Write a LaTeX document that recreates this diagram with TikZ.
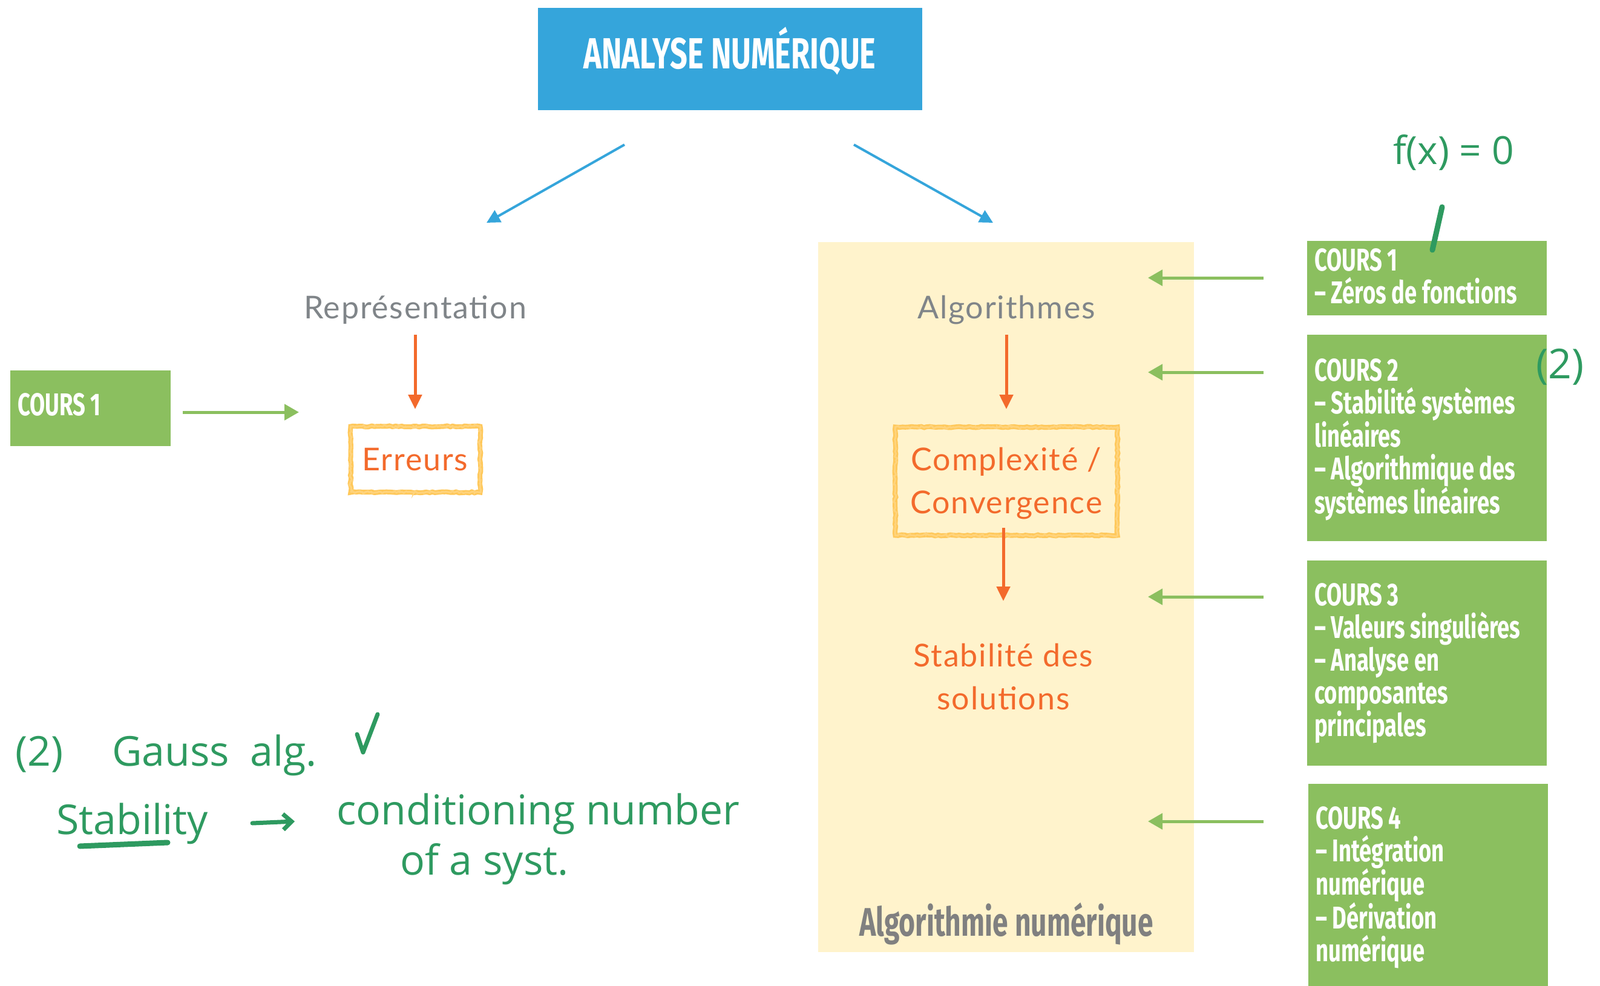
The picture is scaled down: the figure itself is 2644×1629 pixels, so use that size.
\documentclass[tikz,border=0pt]{standalone}
\usepackage{fontspec}
\setmainfont{Lato}[LetterSpace=3.5]
\newfontfamily\condfont[FakeStretch=0.7]{Fira Sans}
\newfontfamily\handfont{Open Sans}
\usetikzlibrary{arrows.meta,decorations.pathmorphing}
\definecolor{titleblue}{RGB}{53,165,219}
\definecolor{coursgreen}{RGB}{139,191,95}
\definecolor{orng}{RGB}{243,106,44}
\definecolor{graytext}{RGB}{128,133,137}
\definecolor{bgyellow}{RGB}{255,243,204}
\definecolor{sketchyellow}{RGB}{255,200,90}
\definecolor{handgreen}{RGB}{46,154,96}
\definecolor{algogray}{RGB}{128,128,128}
\newcommand\leftlines[1]{\vtop{\halign{##\hfil\cr#1\crcr}}}
\newcommand\ctrlines[1]{\vtop{\halign{\hfil##\hfil\cr#1\crcr}}}
\begin{document}
\begin{tikzpicture}[x=1pt,y=-1pt,
  fillbox/.style={anchor=north west, inner sep=0pt, outer sep=0pt},
  titletext/.style={anchor=base, inner sep=0pt, text=white, font=\condfont\bfseries\fontsize{72}{80}\selectfont},
  courstext/.style={anchor=base west, inner sep=0pt, text=white, font=\condfont\bfseries\fontsize{52}{54}\selectfont},
  graylabel/.style={anchor=base, inner sep=0pt, text=graytext, font=\fontsize{52}{60}\selectfont},
  orangelabel/.style={anchor=base, inner sep=0pt, text=orng, font=\fontsize{52}{71}\selectfont},
  sketchbox/.style={draw=sketchyellow, line width=8pt, inner sep=0pt,
     decorate, decoration={random steps, segment length=5pt, amplitude=1pt},
     postaction={draw=sketchyellow!80, line width=3pt, decorate,
       decoration={random steps, segment length=3pt, amplitude=2.5pt}}},
  bluearrow/.style={draw=titleblue, line width=4pt, -{Triangle[length=22pt,width=22pt]}},
  orangearrow/.style={draw=orng, line width=5pt, -{Triangle[length=24pt,width=22pt]}},
  greenarrow/.style={draw=coursgreen, line width=5pt, -{Triangle[length=24pt,width=26pt]}},
  hand/.style={anchor=base west, inner sep=0pt, text=handgreen, font=\handfont\fontsize{68}{74}\selectfont},
  handline/.style={draw=handgreen, line width=9pt, line cap=round, line join=round}
]
\useasboundingbox (0,0) rectangle (2644,1629);

% title
\node[fillbox, fill=titleblue, minimum width=635pt, minimum height=169pt] (title) at (889,13) {};
\node[titletext] (titlet) at (1206,114) {ANALYSE NUMÉRIQUE};

% blue arrows
\coordinate (bl1) at (1032,239);
\coordinate (bl2) at (804,368);
\coordinate (br1) at (1411,239);
\coordinate (br2) at (1641,368);
\draw[bluearrow] (bl1) -- (bl2);
\draw[bluearrow] (br1) -- (br2);

% left branch
\node[graylabel] (rep) at (686,526) {Représentation};
\coordinate (ra1) at (686,553);
\coordinate (ra2) at (686,676);
\draw[orangearrow] (ra1) -- (ra2);
\node[sketchbox, minimum width=214pt, minimum height=109pt] (err) at (686.5,759) {};
\node[orangelabel] (errt) at (686,777) {Erreurs};

\node[fillbox, fill=coursgreen, minimum width=265pt, minimum height=125pt] (lc1) at (17,612) {};
\node[courstext] (lc1t) at (29,686) {COURS 1};
\coordinate (lg1) at (302,681);
\coordinate (lg2) at (494,681);
\draw[greenarrow] (lg1) -- (lg2);

% right branch
\node[fillbox, fill=bgyellow, minimum width=621pt, minimum height=1173pt] (algobg) at (1352,400) {};
\node[graylabel] (algo) at (1663,526) {Algorithmes};
\coordinate (aa1) at (1663,553);
\coordinate (aa2) at (1663,676);
\draw[orangearrow] (aa1) -- (aa2);
\node[sketchbox, minimum width=367pt, minimum height=179pt] (cx) at (1663,795) {};
\node[orangelabel] (cxt) at (1663,777) {\ctrlines{Complexité /\cr Convergence}};
\coordinate (ca1) at (1658,872);
\coordinate (ca2) at (1658,993);
\draw[orangearrow] (ca1) -- (ca2);
\node[orangelabel] (stab) at (1658,1101) {\ctrlines{Stabilité des\cr solutions}};
\node[anchor=base, inner sep=0pt, text=algogray, font=\condfont\bfseries\fontsize{66}{80}\selectfont] (algon) at (1663,1546) {Algorithmie numérique};

% right course boxes
\node[fillbox, fill=coursgreen, minimum width=396pt, minimum height=123pt] (c1) at (2160,398) {};
\node[courstext] (c1t) at (2172,447) {\leftlines{COURS 1\cr – Zéros de fonctions}};
\node[fillbox, fill=coursgreen, minimum width=396pt, minimum height=341pt] (c2) at (2160,553) {};
\node[courstext] (c2t) at (2172,629) {\leftlines{COURS 2\cr – Stabilité systèmes\cr linéaires\cr – Algorithmique des\cr systèmes linéaires}};
\node[fillbox, fill=coursgreen, minimum width=396pt, minimum height=339pt] (c3) at (2160,926) {};
\node[courstext] (c3t) at (2172,1000) {\leftlines{COURS 3\cr – Valeurs singulières\cr – Analyse en\cr composantes\cr principales}};
\node[fillbox, fill=coursgreen, minimum width=396pt, minimum height=340pt] (c4) at (2162,1295) {};
\node[courstext] (c4t) at (2174,1369) {\leftlines{COURS 4\cr – Intégration\cr numérique\cr – Dérivation\cr numérique}};

\foreach \y [count=\i] in {459,615,986,1357}{
  \coordinate (rg\i a) at (2088,\y);
  \coordinate (rg\i b) at (1897,\y);
  \draw[greenarrow] (rg\i a) -- (rg\i b);
}

% handwritten notes
\node[hand, anchor=base, font=\handfont\fontsize{64}{70}\selectfont] (fx) at (2402,272) {f(x) = 0};
\coordinate (tick1) at (2383,342);
\coordinate (tick2) at (2367,413);
\draw[handline] (tick1) -- (tick2);
\node[hand, anchor=base] (two) at (2578,625) {(2)};

\node[hand] (n2) at (25,1265) {(2)};
\node[hand] (gauss) at (185,1265) {Gauss};
\node[hand] (alg) at (413,1265) {alg.};
\coordinate (ck1) at (590,1213);
\coordinate (ck2) at (600,1243);
\coordinate (ck3) at (624,1180);
\draw[handline, line width=7pt] (ck1) -- (ck2) -- (ck3);

\node[hand] (stabh) at (93,1378) {Stability};
\coordinate (ul1) at (132,1398);
\coordinate (ul2) at (277,1392);
\draw[handline] (ul1) -- (ul2);
\coordinate (ha1) at (417,1360);
\coordinate (ha2) at (487,1357);
\draw[handline, line width=7pt, -{Straight Barb[length=14pt,width=26pt]}] (ha1) -- (ha2);
\node[hand] (cond) at (556,1362) {conditioning number};
\node[hand] (ofa) at (661,1445) {of a syst.};
\end{tikzpicture}
\end{document}
